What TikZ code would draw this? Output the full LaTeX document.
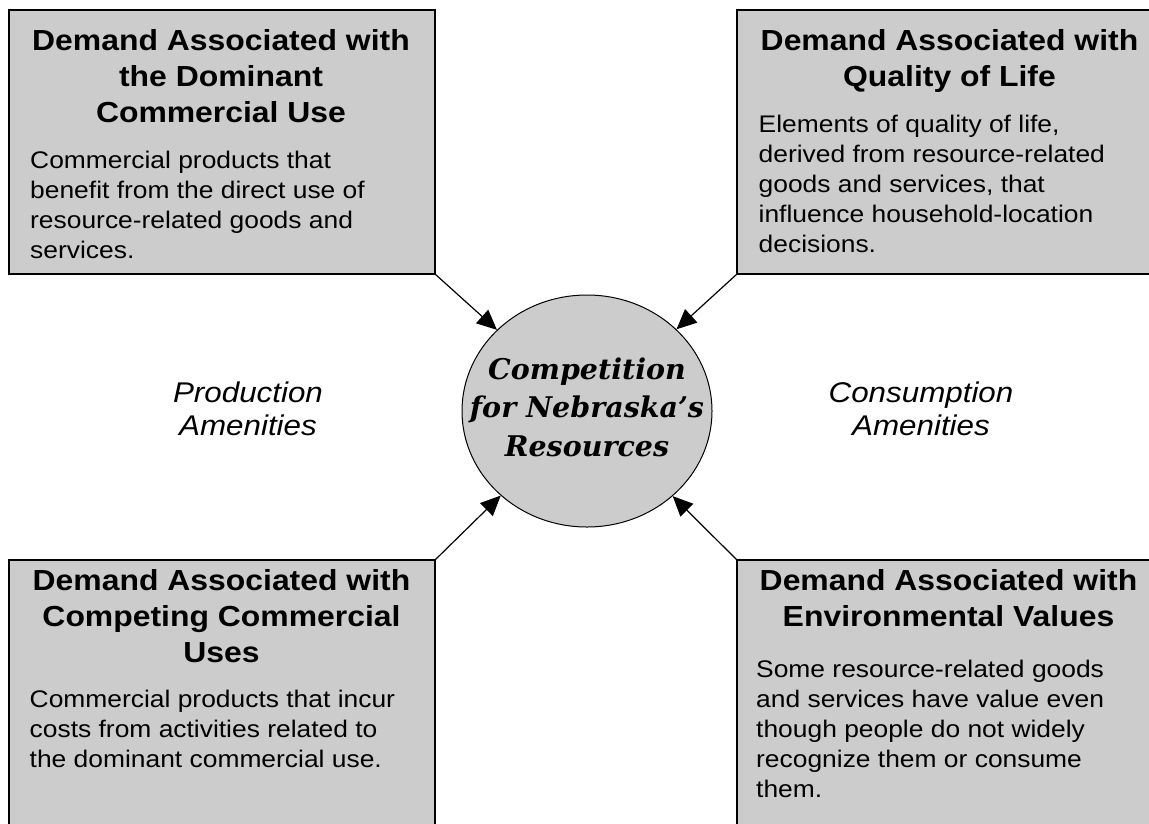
\documentclass[tikz,border=0pt]{standalone}
\usepackage{fontspec}
\newfontfamily\arialf{Liberation Sans}[FakeStretch=1.1]
\newfontfamily\hubf{DejaVu Serif}
\usetikzlibrary{shapes.geometric,arrows.meta}
\definecolor{boxgray}{gray}{0.8}
\begin{document}
\begin{tikzpicture}[x=1pt,y=-1pt,
  box/.style={draw=black, line width=1.5pt, fill=boxgray, rectangle, inner sep=0pt, outer sep=0pt, anchor=north west, minimum width=426pt, minimum height=264pt},
  cutbox/.style={box, draw=none},
  edge/.style={draw=black, line width=1.5pt},
  titletext/.style={font=\arialf\bfseries\fontsize{29}{36}\selectfont, align=center, inner sep=0pt, anchor=north},
  bodytext/.style={font=\arialf\fontsize{24}{30}\selectfont, align=left, inner sep=0pt, anchor=north west},
  amen/.style={font=\arialf\itshape\fontsize{28.5}{33}\selectfont, align=center, inner sep=0pt, anchor=north},
  hub/.style={ellipse, draw=black, line width=1pt, fill=boxgray, minimum width=250pt, minimum height=232pt, inner sep=0pt},
  hubtext/.style={font=\hubf\bfseries\itshape\fontsize{28.5}{38.5}\selectfont, align=center, inner sep=0pt},
  link/.style={line width=1.2pt, -{Triangle[length=20pt,width=18pt]}}
]
\useasboundingbox (0,0) rectangle (1149,823);
\clip (0,0) rectangle (1149,823);
\fill[white] (0,0) rectangle (1149,823);

% boxes (the three cut by the picture's edge have no border on the cut sides)
\node[box] (tl) at (9,10) {};
\node[cutbox, minimum width=480pt] (tr) at (737,10) {};
\draw[edge] (tr.north east) -- (tr.north west) -- (tr.south west) -- (tr.south east);
\node[cutbox, minimum height=320pt] (bl) at (9,560) {};
\draw[edge] (bl.south west) -- (bl.north west) -- (bl.north east) -- (bl.south east);
\node[cutbox, minimum width=480pt, minimum height=320pt] (br) at (737,560) {};
\draw[edge] (br.south west) -- (br.north west) -- (br.north east);

% box texts
\node[titletext] (tlt) at (221,29) {Demand Associated with\\the Dominant\\Commercial Use};
\node[bodytext] (tlb) at (30,151) {Commercial products that\\benefit from the direct use of\\resource-related goods and\\services.};

\node[titletext] (trt) at (949.5,29) {Demand Associated with\\Quality of Life};
\node[bodytext] (trb) at (758.5,114.5) {Elements of quality of life,\\derived from resource-related\\goods and services, that\\influence household-location\\decisions.};

\node[titletext] (blt) at (221.5,569) {Demand Associated with\\Competing Commercial\\Uses};
\node[bodytext] (blb) at (29.5,690) {Commercial products that incur\\costs from activities related to\\the dominant commercial use.};

\node[titletext] (brt) at (948.5,569) {Demand Associated with\\Environmental Values};
\node[bodytext] (brb) at (756,659.5) {Some resource-related goods\\and services have value even\\though people do not widely\\recognize them or consume\\them.};

% hub
\node[hub] (hub) at (587,411) {};
\node[hubtext] (hubt) at (587,407) {Competition\\for Nebraska’s\\Resources};

% side labels
\node[amen] (prod) at (248,381.5) {Production\\Amenities};
\node[amen] (cons) at (921,381.5) {Consumption\\Amenities};

% connectors
\draw[link] (tl.south east) -- (hub);
\draw[link] (tr.south west) -- (hub);
\draw[link] (bl.north east) -- (hub);
\draw[link] (br.north west) -- (hub);
\end{tikzpicture}
\end{document}
